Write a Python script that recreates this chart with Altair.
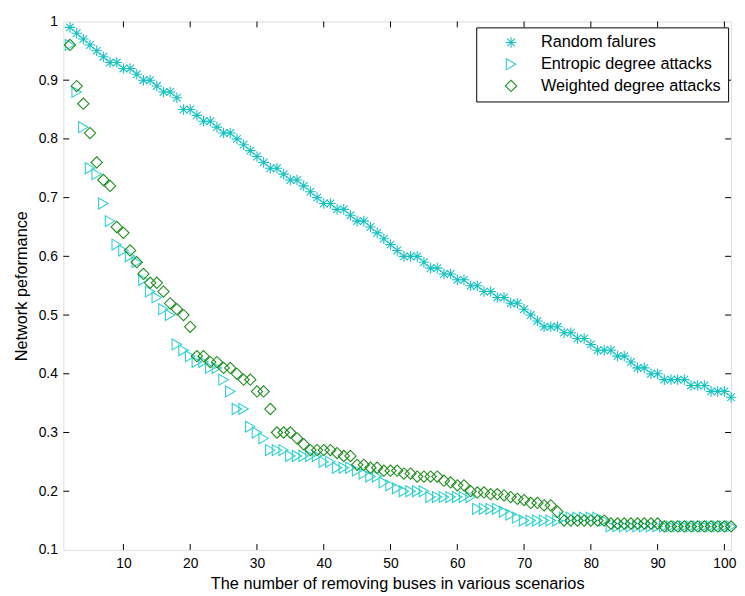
import altair as alt
import pandas as pd

# ---------------- data ----------------
x_values = list(range(2, 102))

random_failures = [
    0.99, 0.98, 0.97, 0.96, 0.95, 0.94, 0.93, 0.93, 0.92, 0.92,
    0.91, 0.90, 0.90, 0.89, 0.88, 0.88, 0.87, 0.85, 0.85, 0.84,
    0.83, 0.83, 0.82, 0.81, 0.81, 0.80, 0.79, 0.78, 0.77, 0.76,
    0.75, 0.75, 0.74, 0.73, 0.73, 0.72, 0.71, 0.70, 0.69, 0.69,
    0.68, 0.68, 0.67, 0.66, 0.66, 0.65, 0.64, 0.63, 0.62, 0.61,
    0.60, 0.60, 0.60, 0.59, 0.58, 0.58, 0.57, 0.57, 0.56, 0.56,
    0.55, 0.55, 0.54, 0.54, 0.53, 0.53, 0.52, 0.52, 0.51, 0.50,
    0.49, 0.48, 0.48, 0.48, 0.47, 0.47, 0.46, 0.46, 0.45, 0.44,
    0.44, 0.44, 0.43, 0.43, 0.42, 0.41, 0.41, 0.40, 0.40, 0.39,
    0.39, 0.39, 0.39, 0.38, 0.38, 0.38, 0.37, 0.37, 0.37, 0.36,
]

entropic_attacks = [
    0.96, 0.88, 0.82, 0.75, 0.74, 0.69, 0.66, 0.62, 0.61, 0.60,
    0.59, 0.56, 0.54, 0.53, 0.51, 0.50, 0.45, 0.44, 0.43, 0.42,
    0.42, 0.41, 0.41, 0.39, 0.37, 0.34, 0.34, 0.31, 0.30, 0.29,
    0.27, 0.27, 0.27, 0.26, 0.26, 0.26, 0.26, 0.26, 0.25, 0.25,
    0.24, 0.24, 0.24, 0.235, 0.23, 0.225, 0.225, 0.215, 0.21, 0.205,
    0.20, 0.20, 0.20, 0.20, 0.19, 0.19, 0.19, 0.19, 0.19, 0.19,
    0.19, 0.17, 0.17, 0.17, 0.17, 0.165, 0.16, 0.155, 0.15, 0.15,
    0.15, 0.15, 0.15, 0.15, 0.155, 0.155, 0.155, 0.155, 0.155, 0.155,
    0.15, 0.14, 0.14, 0.14, 0.14, 0.14, 0.14, 0.14, 0.14, 0.14,
    0.14, 0.14, 0.14, 0.14, 0.14, 0.14, 0.14, 0.14, 0.14, 0.14,
]

weighted_attacks = [
    0.96, 0.89, 0.86, 0.81, 0.76, 0.73, 0.72, 0.65, 0.64, 0.61,
    0.59, 0.57, 0.555, 0.555, 0.54, 0.52, 0.51, 0.50, 0.48, 0.43,
    0.43, 0.42, 0.42, 0.41, 0.41, 0.40, 0.39, 0.39, 0.37, 0.37,
    0.34, 0.30, 0.30, 0.30, 0.29, 0.28, 0.27, 0.27, 0.27, 0.27,
    0.265, 0.26, 0.26, 0.245, 0.245, 0.24, 0.24, 0.235, 0.235, 0.235,
    0.23, 0.23, 0.225, 0.225, 0.225, 0.225, 0.218, 0.215, 0.21, 0.21,
    0.20, 0.198, 0.198, 0.195, 0.195, 0.193, 0.19, 0.187, 0.185, 0.18,
    0.18, 0.176, 0.176, 0.165, 0.15, 0.15, 0.15, 0.15, 0.15, 0.15,
    0.15, 0.145, 0.145, 0.145, 0.145, 0.145, 0.145, 0.145, 0.145, 0.14,
    0.14, 0.14, 0.14, 0.14, 0.14, 0.14, 0.14, 0.14, 0.14, 0.14,
]

series_names = ["Random falures", "Entropic degree attacks", "Weighted degree attacks"]
series_colors = ["#17c2c2", "#2fd0d0", "#1f8e1f"]
x_ticks = [10, 20, 30, 40, 50, 60, 70, 80, 90, 100]
y_ticks = [0.1, 0.2, 0.3, 0.4, 0.5, 0.6, 0.7, 0.8, 0.9, 1.0]

# ---------------- tables ----------------
rows = []
for name, vals in zip(series_names, [random_failures, entropic_attacks, weighted_attacks]):
    for xv, yv in zip(x_values, vals):
        rows.append({"x": xv, "y": yv, "series": name})
df = pd.DataFrame(rows)
df["order"] = df["series"].map({n: i for i, n in enumerate(series_names)})

xt = pd.DataFrame({"x": x_ticks})
yt = pd.DataFrame({"y": y_ticks[1:-1]})

W, H = 676, 535
FONT = "Liberation Sans"
STAR = "M-1,0L1,0M0,-1L0,1M-0.72,-0.72L0.72,0.72M-0.72,0.72L0.72,-0.72"

x_scale = alt.Scale(domain=[1, 101], nice=False, zero=False)
y_scale = alt.Scale(domain=[0.1, 1.0], nice=False, zero=False)

points = alt.Chart(df).mark_point(filled=False, strokeWidth=1.1, opacity=1).encode(
    x=alt.X("x:Q", scale=x_scale,
            axis=alt.Axis(values=x_ticks, title="The number of removing buses in various scenarios",
                          ticks=False, domain=False, grid=False, labelPadding=7,
                          labelFontSize=14, titleFontSize=16.5, titleFontWeight="normal",
                          titlePadding=5, labelColor="black", titleColor="black",
                          labelFont=FONT, titleFont=FONT)),
    y=alt.Y("y:Q", scale=y_scale,
            axis=alt.Axis(values=y_ticks, title="Network peformance", format="~g",
                          ticks=False, domain=False, grid=False, labelPadding=6,
                          labelFontSize=14, titleFontSize=16.5, titleFontWeight="normal",
                          titlePadding=9, labelColor="black", titleColor="black",
                          labelFont=FONT, titleFont=FONT)),
    color=alt.Color("series:N", scale=alt.Scale(domain=series_names, range=series_colors),
                    legend=alt.Legend(title=None, orient="none", legendX=418, legendY=6,
                                      fillColor="white", strokeColor="black",
                                      padding=7, labelFontSize=16.5, labelFont=FONT,
                                      labelColor="black", rowPadding=5, symbolOffset=20,
                                      labelOffset=22, labelLimit=400,
                                      symbolStrokeWidth=1.1, cornerRadius=0)),
    shape=alt.Shape("series:N", scale=alt.Scale(domain=series_names,
                                                range=[STAR, "triangle-right", "diamond"])),
    size=alt.Size("series:N", scale=alt.Scale(domain=series_names, range=[115, 130, 165])),
    order=alt.Order("order:Q"),
)

tick_len = 6
x_bottom = alt.Chart(xt).mark_rule(color="black", strokeWidth=1).encode(
    x=alt.X("x:Q", scale=x_scale), y=alt.value(H), y2=alt.value(H - tick_len))
x_top = alt.Chart(xt).mark_rule(color="black", strokeWidth=1).encode(
    x=alt.X("x:Q", scale=x_scale), y=alt.value(0), y2=alt.value(tick_len))
y_left = alt.Chart(yt).mark_rule(color="black", strokeWidth=1).encode(
    y=alt.Y("y:Q", scale=y_scale), x=alt.value(0), x2=alt.value(tick_len))
y_right = alt.Chart(yt).mark_rule(color="black", strokeWidth=1).encode(
    y=alt.Y("y:Q", scale=y_scale), x=alt.value(W), x2=alt.value(W - tick_len))

chart = alt.layer(x_bottom, x_top, y_left, y_right, points).properties(
    width=W, height=H,
    autosize=alt.AutoSizeParams(type="none"),
    padding={"left": 56, "top": 10, "right": 6, "bottom": 43},
).configure_view(stroke="black", strokeWidth=1.2).configure(background="white")

chart.save("out.html", embed_options={"renderer": "svg", "actions": False})
